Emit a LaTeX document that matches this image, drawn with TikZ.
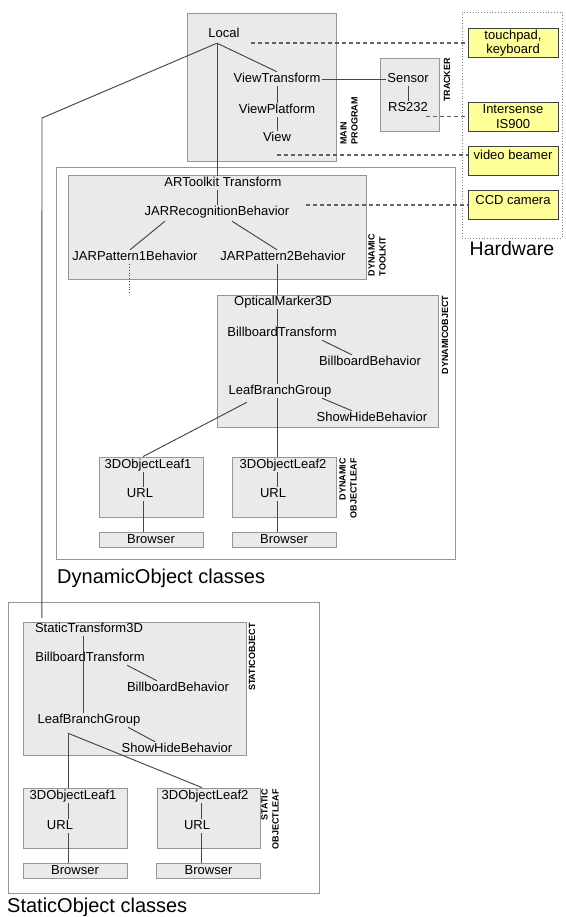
\documentclass[tikz,border=0pt]{standalone}
\usepackage{fontspec}
\setmainfont{Liberation Sans}
\usepackage{tikz}

\definecolor{panelgray}{RGB}{234,234,234}
\definecolor{edgegray}{RGB}{150,150,150}
\definecolor{wiregray}{RGB}{70,70,70}
\definecolor{hwyellow}{RGB}{255,255,153}

\begin{document}
\begin{tikzpicture}[
  x=1pt, y=-1pt,
  txt/.style={font=\fontsize{13}{15}\selectfont, inner sep=1pt, text height=9.5pt, text depth=2.5pt},
  frame/.style={draw=edgegray, line width=0.8pt},
  panel/.style={draw=edgegray, fill=panelgray, line width=0.8pt},
  brbox/.style={panel, txt, inner sep=0pt, minimum width=104pt, minimum height=15pt},
  hwbox/.style={draw=black!75, fill=hwyellow, line width=0.8pt, align=center, inner sep=1pt,
                font=\fontsize{13}{14.5}\selectfont, minimum width=90pt, minimum height=29pt},
  tag/.style={font=\fontsize{9}{11}\selectfont\bfseries, rotate=90, inner sep=0pt},
  caption/.style={font=\fontsize{20}{22}\selectfont, inner sep=0pt},
  wire/.style={draw=wiregray, line width=0.95pt},
  hwlink/.style={draw=wiregray!85, dash pattern=on 4pt off 3pt, line width=1.1pt},
]
\useasboundingbox (0,0) rectangle (565,917);

% Outer class frames
\node[frame, minimum width=399pt, minimum height=392pt] (dynframe) at (255.5,363) {};
\node[caption, anchor=base west] (dyncap) at (57,583) {DynamicObject classes};
\node[frame, minimum width=311pt, minimum height=291pt] (statframe) at (163.5,747.5) {};
\node[caption, anchor=base west] (statcap) at (7,912) {StaticObject classes};

% Hardware
\node[draw=gray, dotted, line width=0.8pt, minimum width=100pt, minimum height=226pt] (hw) at (512,125) {};
\node[caption, font=\fontsize{19.5}{22}\selectfont, anchor=base] (hwcap) at (512,255) {Hardware};
\node[hwbox] (touch)  at (513,43)    {touchpad,\\keyboard};
\node[hwbox] (inters) at (513,116.5) {Intersense\\IS900};
\node[hwbox, text depth=11pt] (beamer) at (513,160.5) {video beamer};
\node[hwbox, text depth=11pt] (ccd)    at (513,205)   {CCD camera};

% Main program
\node[panel, minimum width=149pt, minimum height=148pt] (mainprog) at (261.5,87) {};
\node[tag, align=left] (maintag) at (349,121) {MAIN\\PROGRAM};
\node[txt] (local)  at (224,34)  {Local};
\node[txt] (viewtf) at (277,79)  {ViewTransform};
\node[txt] (viewpf) at (277,110) {ViewPlatform};
\node[txt] (view)   at (277,138) {View};

% Tracker
\node[panel, minimum width=59pt, minimum height=73pt] (tracker) at (409.5,94.5) {};
\node[tag] (tracktag) at (447,80) {TRACKER};
\node[txt] (sensor) at (408,79)  {Sensor};
\node[txt] (rs)     at (408,108) {RS232};

% Dynamic toolkit
\node[panel, minimum width=298pt, minimum height=104pt] (dyntk) at (217,227) {};
\node[tag, align=left] (tktag) at (377,255) {DYNAMIC\\TOOLKIT};
\node[txt] (artk)   at (223,183) {ARToolkit Transform};
\node[txt] (jarrec) at (217,212) {JARRecognitionBehavior};
\node[txt] (jp1)    at (135,257) {JARPattern1Behavior};
\node[txt] (jp2)    at (283,257) {JARPattern2Behavior};
\coordinate (jp1tail) at (129,293);

% Dynamic object
\node[panel, minimum width=221pt, minimum height=132pt] (dynobj) at (327.5,361) {};
\node[tag] (dobjtag) at (445,335) {DYNAMICOBJECT};
\node[txt] (optm) at (283,302) {OpticalMarker3D};
\node[txt] (dbbt) at (282,333) {BillboardTransform};
\node[txt] (dbbb) at (370,362) {BillboardBehavior};
\node[txt] (dlbg) at (280,391) {LeafBranchGroup};
\node[txt] (dshb) at (372,418) {ShowHideBehavior};

% Dynamic object leaves
\node[panel, minimum width=104pt, minimum height=60pt] (dleafbox1) at (151,487) {};
\node[panel, minimum width=104pt, minimum height=60pt] (dleafbox2) at (284,487) {};
\node[tag, align=right] (dleaftag) at (348,488) {DYNAMIC\\OBJECTLEAF};
\node[txt] (dleafa) at (148,465) {3DObjectLeaf1};
\node[txt] (durla)  at (140,494) {URL};
\node[txt] (dleafb) at (283,465) {3DObjectLeaf2};
\node[txt] (durlb)  at (273,494) {URL};
\node[brbox] (dbra) at (151,539.5) {Browser};
\node[brbox] (dbrb) at (284,539.5) {Browser};

% Static object
\node[panel, minimum width=223pt, minimum height=133pt] (statobj) at (134.5,688.5) {};
\node[tag] (sobjtag) at (252,657) {STATICOBJECT};
\node[txt] (stt)  at (89,629)  {StaticTransform3D};
\node[txt] (sbbt) at (90,658)  {BillboardTransform};
\node[txt] (sbbb) at (178,688) {BillboardBehavior};
\node[txt] (slbg) at (89,720)  {LeafBranchGroup};
\node[txt] (sshb) at (177,749) {ShowHideBehavior};

% Static object leaves
\node[panel, minimum width=104pt, minimum height=60pt] (sleafbox1) at (75,818) {};
\node[panel, minimum width=103pt, minimum height=60pt] (sleafbox2) at (208.5,818) {};
\node[tag, align=right] (sleaftag) at (270,819) {STATIC\\OBJECTLEAF};
\node[txt] (sleafa) at (73,796)  {3DObjectLeaf1};
\node[txt] (surla)  at (60,826)  {URL};
\node[txt] (sleafb) at (205,796) {3DObjectLeaf2};
\node[txt] (surlb)  at (197,826) {URL};
\node[brbox] (sbra) at (75,870.5)  {Browser};
\node[brbox] (sbrb) at (208.5,870.5) {Browser};

% Scene graph edges: main program
\draw[wire] ([xshift=-7pt,yshift=-2pt]local.south) -- (viewtf.north);
\draw[wire] ([xshift=-7pt,yshift=-2pt]local.south) -- ([xshift=-6pt]artk.north);
\draw[wire] ([xshift=-7pt,yshift=-2pt]local.south) -- (42,118) -- ([xshift=8pt,yshift=4pt]stt.north west);
\draw[wire] (viewtf) -- (viewpf);
\draw[wire] (viewpf) -- (view);
\draw[wire] (viewtf.east) -- (sensor.west);
\draw[wire] (sensor) -- (rs);

% Dynamic toolkit edges
\draw[wire] (jarrec.north |- artk.south) -- (jarrec.north);
\draw[wire] ([xshift=-52pt,yshift=-2pt]jarrec.south) -- ([xshift=-5pt]jp1.north);
\draw[wire] ([xshift=15pt,yshift=-2pt]jarrec.south) -- ([xshift=-6pt]jp2.north);
\draw[draw=wiregray, dotted, line width=0.8pt] ([xshift=-6pt]jp1.south) -- (jp1tail);

% Dynamic object edges
\draw[wire] ([xshift=-6pt]jp2.south) -- ([xshift=-6pt]jp2.south |- optm.north);
\draw[wire] ([xshift=-6pt]optm.south) -- ([xshift=-6pt]optm.south |- dlbg.north);
\draw[wire] ([xshift=-3pt]dlbg.south) -- ([xshift=-3pt]dlbg.south |- dleafbox2.north);
\draw[wire] ([xshift=40pt]dbbt.south) -- ([xshift=-18pt]dbbb.north);
\draw[wire] ([xshift=42pt]dlbg.south) -- ([xshift=-20pt]dshb.north);
\draw[wire] ([xshift=-33pt,yshift=-4pt]dlbg.south) -- ([xshift=-8pt]dleafbox1.north);
\draw[wire] ([xshift=3pt]durla.north |- dleafa.south) -- ([xshift=3pt]durla.north);
\draw[wire] ([xshift=3pt]durla.south) -- ([xshift=3pt]durla.south |- dbra.north);
\draw[wire] ([xshift=4pt]durlb.north |- dleafb.south) -- ([xshift=4pt]durlb.north);
\draw[wire] ([xshift=4pt]durlb.south) -- ([xshift=4pt]durlb.south |- dbrb.north);

% Static object edges
\draw[wire] ([xshift=-6pt]stt.south) -- ([xshift=-6pt]stt.south |- slbg.north);
\draw[wire] ([xshift=37pt]sbbt.south) -- ([xshift=-21pt]sbbb.north);
\draw[wire] ([xshift=39pt]slbg.south) -- ([xshift=-22pt]sshb.north);
\draw[wire] ([xshift=-21pt,yshift=-6pt]slbg.south) -- ([xshift=-21pt]slbg.south |- sleafbox1.north);
\draw[wire] ([xshift=-21pt,yshift=-6pt]slbg.south) -- ([xshift=-6.5pt]sleafbox2.north);
\draw[wire] ([xshift=8pt]surla.north |- sleafa.south) -- ([xshift=8pt]surla.north);
\draw[wire] ([xshift=8pt]surla.south) -- ([xshift=8pt]surla.south |- sbra.north);
\draw[wire] ([xshift=4pt]surlb.north |- sleafb.south) -- ([xshift=4pt]surlb.north);
\draw[wire] ([xshift=4pt]surlb.south) -- ([xshift=4pt]surlb.south |- sbrb.north);

% Hardware links
\draw[hwlink] ([xshift=10pt]touch.west -| local.east) -- (touch.west);
\draw[hwlink] ([xshift=-3pt]inters.west -| rs.east) -- (inters.west);
\draw[hwlink] ([yshift=5.5pt]beamer.west -| view) -- ([yshift=5.5pt]beamer.west);
\draw[hwlink] ([xshift=16pt]ccd.west -| jarrec.east) -- (ccd.west);

\end{tikzpicture}
\end{document}
